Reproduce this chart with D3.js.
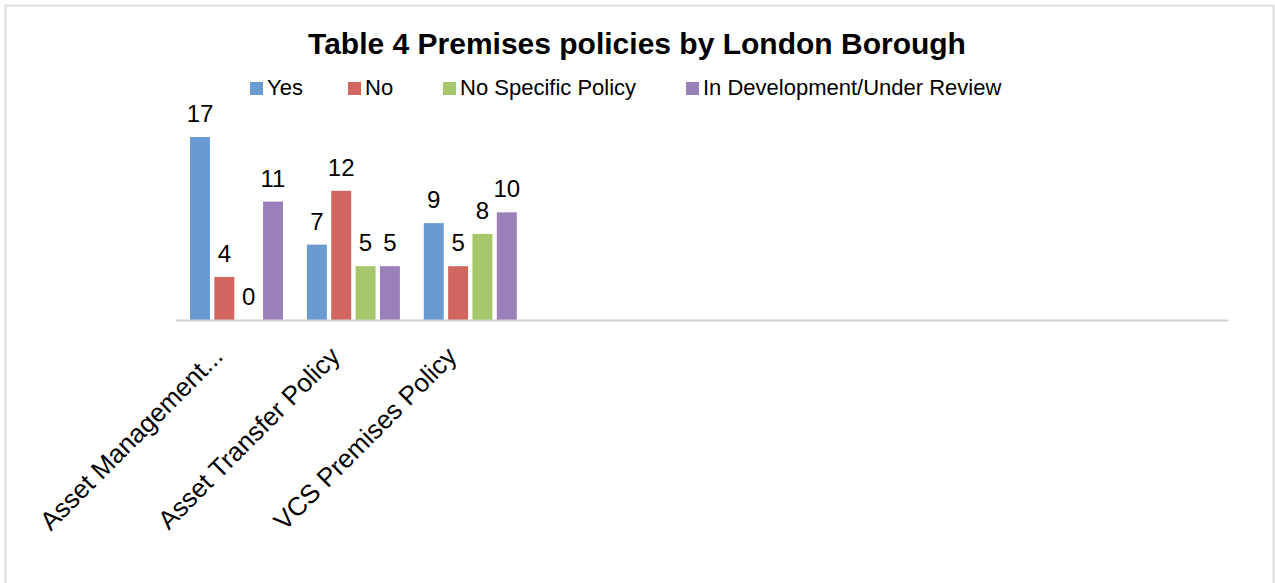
<!DOCTYPE html>
<html>
<head>
<meta charset="utf-8">
<title>Table 4 Premises policies by London Borough</title>
<style>
body { margin: 0; background: #fff; }
text { font-family: "Liberation Sans", Arial, sans-serif; fill: #000; }
</style>
</head>
<body>
<script src="https://cdn.jsdelivr.net/npm/d3@7/dist/d3.min.js"></script>
<script>

var categories = ["Asset Management...", "Asset Transfer Policy", "VCS Premises Policy"];
var series = ["Yes", "No", "No Specific Policy", "In Development/Under Review"];
var colors = ["#6a9bd0", "#d0665f", "#a7c76c", "#9a80b8"];
var yes = [17, 7, 9];
var no = [4, 12, 5];
var noSpecific = [0, 5, 8];
var inDevelopment = [11, 5, 10];

// the original sheet reserves 9 category slots, only 3 are filled
var slots = 9;

var width = 1275, height = 583;

var svg = d3.select("body").append("svg")
    .attr("width", width)
    .attr("height", height);

// outer frame
svg.append("rect")
    .attr("x", 5.5).attr("y", 5.5)
    .attr("width", 1268).attr("height", 600)
    .attr("fill", "none")
    .attr("stroke", "#dedede")
    .attr("stroke-width", 2);

svg.append("text")
    .attr("x", 637)
    .attr("y", 54)
    .attr("text-anchor", "middle")
    .style("font-size", "30px")
    .style("font-weight", "bold")
    .text("Table 4 Premises policies by London Borough");

var rows = categories.map(function(c, i) {
  return {name: c, i: i, values: [yes[i], no[i], noSpecific[i], inDevelopment[i]]};
});

var x0 = d3.scaleBand()
    .domain(d3.range(slots))
    .range([176, 1228]);

var x1 = d3.scaleBand()
    .domain(d3.range(series.length))
    .range([14, 14 + 93])
    .paddingInner(0.18);

var y = d3.scaleLinear()
    .domain([0, 17])
    .range([320, 137]);

var group = svg.selectAll(".group")
    .data(rows)
    .enter().append("g")
    .attr("class", "group")
    .attr("transform", function(d) { return "translate(" + x0(d.i) + ",0)"; });

group.selectAll("rect")
    .data(function(d) { return d.values; })
    .enter().append("rect")
    .attr("x", function(d, j) { return x1(j); })
    .attr("y", function(d) { return y(d); })
    .attr("width", x1.bandwidth())
    .attr("height", function(d) { return y(0) - y(d); })
    .attr("fill", function(d, j) { return colors[j]; });

group.selectAll(".val")
    .data(function(d) { return d.values; })
    .enter().append("text")
    .attr("class", "val")
    .attr("x", function(d, j) { return x1(j) + x1.bandwidth() / 2; })
    .attr("y", function(d) { return y(d) - 15; })
    .attr("text-anchor", "middle")
    .style("font-size", "24px")
    .text(function(d) { return d; });

// baseline
svg.append("line")
    .attr("x1", 176).attr("x2", 1228)
    .attr("y1", y(0) + 0.5).attr("y2", y(0) + 0.5)
    .attr("stroke", "#cfcfcf")
    .attr("stroke-width", 2);

// rotated category labels
svg.selectAll(".cat")
    .data(rows)
    .enter().append("text")
    .attr("class", "cat")
    .attr("text-anchor", "end")
    .style("font-size", "26px")
    .attr("transform", function(d) {
      var cx = x0(d.i) + x0.bandwidth() / 2 - 10;
      return "translate(" + cx + "," + 358 + ") rotate(-45)";
    })
    .text(function(d) { return d.name; });

// legend
var legendX = [250, 348, 443, 686];
var legend = svg.selectAll(".legend")
    .data(series)
    .enter().append("g")
    .attr("class", "legend")
    .attr("transform", function(d, i) { return "translate(" + legendX[i] + ",82)"; });

legend.append("rect")
    .attr("width", 13).attr("height", 13)
    .attr("fill", function(d, i) { return colors[i]; });

legend.append("text")
    .attr("x", 17)
    .attr("y", 13)
    .style("font-size", "22px")
    .text(function(d) { return d; });

</script>
</body>
</html>
